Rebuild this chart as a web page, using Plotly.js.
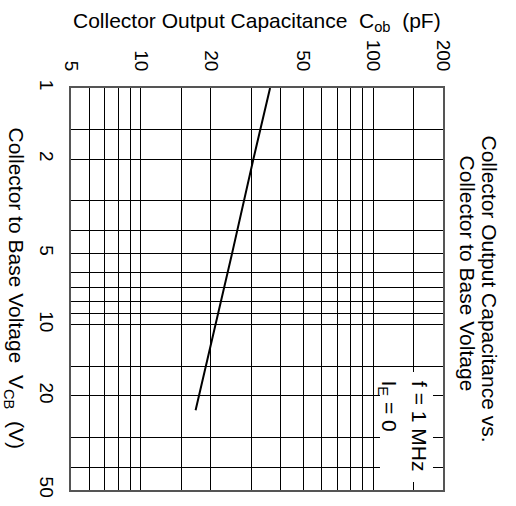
<!DOCTYPE html>
<html><head><meta charset="utf-8">
<script src="https://cdn.plot.ly/plotly-3.0.1.min.js"></script>
<style>html,body{margin:0;padding:0;background:#fff;} #chart{width:516px;height:506px;}</style>
</head><body><div id="chart"></div>
<script>
// Collector to Base Voltage V_CB (V) and Collector Output Capacitance C_ob (pF)
const voltage = [1, 2, 5, 10, 20, 23];
const capacitance = [36, 30.5, 24.7, 21, 17.8, 17.2];
// labelled ticks and extra grid lines
const capTicks = [5, 10, 20, 50, 100, 200];
const capMinorGrid = [6, 7, 8, 9, 15, 30, 40, 60, 70, 80, 90, 150];
const vTicks = [1, 2, 5, 10, 20, 50];
const vMinorGrid = [1.5, 3, 4, 6, 7, 8, 9, 15, 30, 40];

const FONT = '"Liberation Sans", Arial, Helvetica, sans-serif';
const NB = '\u00A0';

const trace = {
  x: capacitance, y: voltage, type: 'scatter', mode: 'lines',
  line: {color: '#000', width: 2}, hoverinfo: 'skip', showlegend: false
};

const axisCommon = {
  type: 'log', tickmode: 'array', tickangle: 90, ticks: '',
  showgrid: true, gridcolor: '#000', gridwidth: 1,
  showline: true, mirror: true, linecolor: '#555', linewidth: 2,
  zeroline: false, tickfont: {size: 19, family: FONT, color: '#000'},
  fixedrange: true
};

const layout = {
  width: 516, height: 506,
  margin: {l: 71, r: 73, t: 88, b: 16, pad: 0},
  paper_bgcolor: '#fff', plot_bgcolor: '#fff',
  font: {family: FONT, color: '#000', size: 19},
  showlegend: false,
  xaxis: Object.assign({}, axisCommon, {
    side: 'top', range: [Math.log10(5), Math.log10(200)],
    tickvals: capTicks, ticktext: capTicks.map(String), ticklabelstandoff: 8,
    minor: {tickmode: 'array', tickvals: capMinorGrid, showgrid: true, gridcolor: '#000', gridwidth: 1, ticks: ''}
  }),
  yaxis: Object.assign({}, axisCommon, {
    range: [Math.log10(50), 0],
    tickvals: vTicks, ticktext: vTicks.map(String), ticklabelstandoff: 6,
    minor: {tickmode: 'array', tickvals: vMinorGrid, showgrid: true, gridcolor: '#000', gridwidth: 1, ticks: ''}
  }),
  // white panel behind the test-condition note
  shapes: [
    {type: 'rect', xref: 'paper', yref: 'paper', x0: 0.8306, x1: 0.9731, y0: 0.0199, y1: 0.2935,
     fillcolor: '#fff', line: {width: 0}, layer: 'above'}
  ],
  annotations: [
    {text: 'Collector Output Capacitance' + NB + NB + 'C<sub>ob</sub>' + NB + NB + '(pF)',
     xref: 'paper', yref: 'paper', x: 0.4987, y: 1.165, xanchor: 'center', yanchor: 'middle',
     showarrow: false, font: {size: 21}},
    {text: 'Collector to Base Voltage' + NB + NB + 'V<sub>CB</sub>' + NB + NB + '(V)',
     xref: 'paper', yref: 'paper', x: -0.1505, y: 0.5012, xanchor: 'center', yanchor: 'middle',
     textangle: 90, showarrow: false, font: {size: 21}},
    {text: 'Collector Output Capacitance vs.',
     xref: 'paper', yref: 'paper', x: 1.1237, y: 0.5012, xanchor: 'center', yanchor: 'middle',
     textangle: 90, showarrow: false, font: {size: 21}},
    {text: 'Collector to Base Voltage',
     xref: 'paper', yref: 'paper', x: 1.0685, y: 0.5373, xanchor: 'center', yanchor: 'middle',
     textangle: 90, showarrow: false, font: {size: 21}},
    {text: 'f = 1 MHz',
     xref: 'paper', yref: 'paper', x: 0.938, y: 0.2736, xanchor: 'center', yanchor: 'top',
     textangle: 90, showarrow: false, font: {size: 21}, borderpad: 0},
    {text: 'I<sub>E</sub> = 0',
     xref: 'paper', yref: 'paper', x: 0.8548, y: 0.2736, xanchor: 'center', yanchor: 'top',
     textangle: 90, showarrow: false, font: {size: 21}, borderpad: 0}
  ]
};

Plotly.newPlot('chart', [trace], layout, {staticPlot: true, displayModeBar: false});
</script>
</body></html>
